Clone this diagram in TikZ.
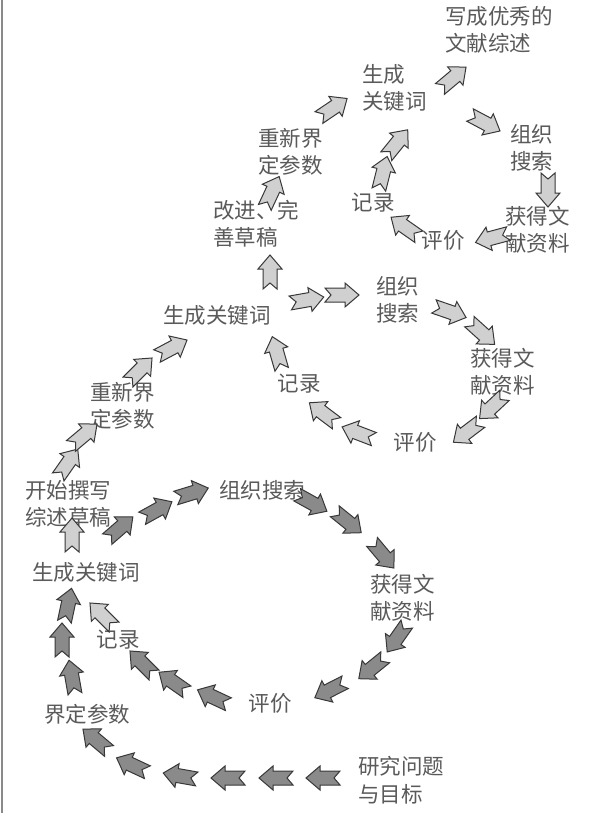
\documentclass[tikz,border=0pt]{standalone}
\usepackage{fontspec}
\newfontfamily\cjk{Noto Sans CJK SC}
\definecolor{txt}{HTML}{5A5A5A}
\definecolor{darkfill}{HTML}{8A8A8A}
\definecolor{lightfill}{HTML}{D0D0D0}
\definecolor{edge}{HTML}{383838}
\definecolor{frame}{HTML}{8A8A8A}
\tikzset{
  lbl/.style={font=\cjk\fontsize{21.5}{27.5}\selectfont, text=txt, inner sep=0pt, align=left},
  blk/.pic={\draw[pic actions] (-17,-7) -- (3,-7) -- (3,-12) -- (17,0) -- (3,12) -- (3,7) -- (-17,7) -- (-11,0) -- cycle;},
  darkarr/.style={fill=darkfill, draw=edge, line width=1pt, line join=miter},
  lightarr/.style={fill=lightfill, draw=edge, line width=1pt, line join=miter},
}
\begin{document}
\begin{tikzpicture}[x=1pt,y=-1pt]
\useasboundingbox (0,0) rectangle (590,813);
\fill[white] (0,0) rectangle (590,813);
\draw[frame, line width=1.5pt] (2,0) -- (2,813);

% ---------- labels: bottom loop ----------
\node[lbl, anchor=west] (goal) at (358,780) {研究问题\\与目标};
\node[lbl] (param1) at (87,714) {界定参数};
\node[lbl] (key1) at (86,572) {生成关键词};
\node[lbl, anchor=west] (draft) at (25,504) {开始撰写\\综述草稿};
\node[lbl] (search1) at (262,490) {组织搜索};
\node[lbl, anchor=west] (get1) at (370,598) {获得文\\献资料};
\node[lbl] (eval1) at (270,703) {评价};
\node[lbl] (rec1) at (118,640) {记录};

% ---------- labels: middle loop ----------
\node[lbl, anchor=west] (param2) at (90,406) {重新界\\定参数};
\node[lbl] (key2) at (217,315) {生成关键词};
\node[lbl, anchor=west] (search2) at (376,300) {组织\\搜索};
\node[lbl, anchor=west] (get2) at (470,372) {获得文\\献资料};
\node[lbl] (eval2) at (415,442) {评价};
\node[lbl] (rec2) at (299,384) {记录};
\node[lbl, anchor=west] (improve) at (213,224) {改进、完\\善草稿};

% ---------- labels: top loop ----------
\node[lbl, anchor=west] (param3) at (258,152) {重新界\\定参数};
\node[lbl, anchor=west] (key3) at (362,88) {生成\\关键词};
\node[lbl, anchor=west] (final) at (445,30) {写成优秀的\\文献综述};
\node[lbl, anchor=west] (search3) at (510,148) {组织\\搜索};
\node[lbl, anchor=west] (get3) at (505,230) {获得文\\献资料};
\node[lbl] (eval3) at (443,240) {评价};
\node[lbl] (rec3) at (373,203) {记录};

% ---------- dark arrows (bottom loop) ----------
\foreach \x/\y/\a in {323/778/180, 276/778/180, 228/778/180, 180/776/170, 132/765/155, 96/740/140,
  72/677/100, 62/640/90, 68/605/78,
  213/697/155, 173/682/145, 142/663/135,
  330/690/207, 372/668/219, 397/638/235,
  312/503/-29, 348/522/-39, 383/555/-50,
  120/528/41, 157/510/29, 192/493/17}
  \pic[darkarr, rotate=\a] at (\x,\y) {blk};

% ---------- light arrows ----------
\foreach \x/\y/\a in {102/615/135, 72/535/90,
  68/463/55, 84/435/40,
  140/370/45, 172/348/28,
  270/272/90,
  307/300/10, 342/295/0,
  450/312/-19, 482/333/-42,
  492/407/223, 467/432/217,
  358/433/159, 323/413/143,
  277/353/106,
  272/192/65, 333/108/34, 453/78/40, 485/123/-28,
  548/190/-90, 492/238/195, 405/227/145, 383/173/76, 397/143/51}
  \pic[lightarr, rotate=\a] at (\x,\y) {blk};
\end{tikzpicture}
\end{document}
